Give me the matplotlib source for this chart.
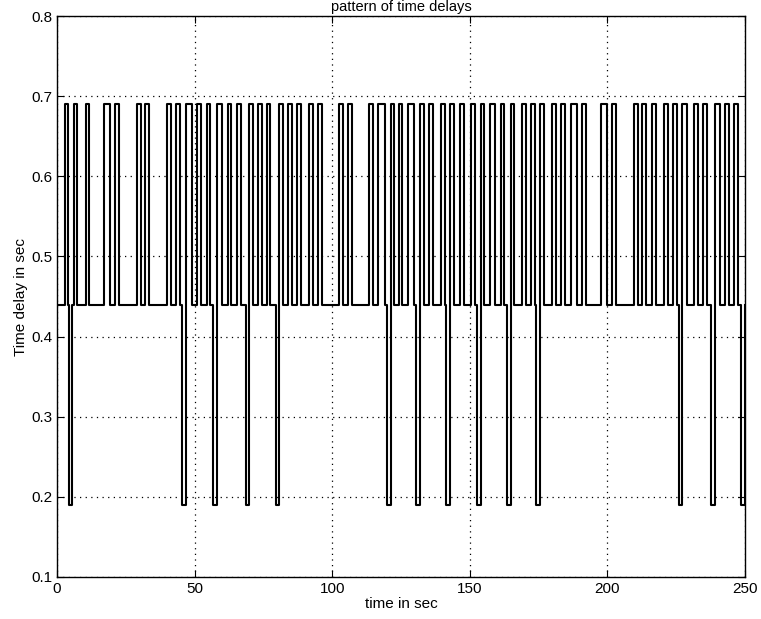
import numpy as np
import matplotlib.pyplot as plt

plt.rcParams['font.family'] = ['Liberation Sans', 'DejaVu Sans']

# levels of the delay (sec)
base_level = 0.44
high_level = 0.69
low_level = 0.19

# pulses up to 0.69 (start, end in sec)
up_start = [2.7, 6.1, 10.5, 17.0, 21.2, 29.2, 32.1, 40.1, 43.2, 46.8, 51.0, 54.4, 58.0, 62.0,
            65.5, 69.9, 73.0, 76.2, 80.8, 83.9, 87.3, 91.7, 94.8, 102.6, 105.7, 113.5, 116.7,
            121.3, 124.3, 127.6, 131.9, 135.3, 139.5, 142.8, 146.3, 150.4, 154.0, 157.2, 161.3,
            164.9, 169.0, 172.2, 175.6, 179.9, 183.1, 186.7, 190.8, 197.6, 201.5, 209.5, 212.7,
            216.1, 220.4, 223.8, 227.2, 231.3, 234.7, 239.1, 242.7, 246.1]
up_end = [3.9, 7.3, 11.7, 19.2, 22.4, 30.4, 33.5, 41.3, 44.7, 49.0, 52.2, 55.6, 59.9, 63.2,
          66.7, 71.1, 74.3, 77.4, 82.0, 85.2, 88.5, 92.9, 96.1, 103.8, 107.0, 114.7, 119.1,
          122.5, 125.5, 129.7, 133.4, 136.5, 140.9, 144.3, 147.7, 151.8, 155.2, 159.3, 162.5,
          166.1, 170.3, 173.6, 176.8, 181.2, 184.5, 188.9, 192.3, 199.8, 203.2, 211.0, 214.1,
          217.5, 221.9, 225.3, 228.9, 232.8, 236.2, 240.8, 244.2, 247.6]

# pulses down to 0.19
down_start = [4.2, 45.4, 56.6, 68.5, 79.4, 119.9, 130.5, 141.4, 152.6, 163.5, 174.2, 225.9, 237.7, 248.6]
down_end = [5.6, 46.8, 58.0, 69.9, 80.8, 121.3, 131.9, 142.8, 154.0, 164.9, 175.6, 227.2, 239.1, 250.0]

pulses = [(s, e, high_level) for s, e in zip(up_start, up_end)]
pulses += [(s, e, low_level) for s, e in zip(down_start, down_end)]
pulses.sort()

t = [0.0]
d = [base_level]
for s, e, lv in pulses:
    t += [s, s, e, e]
    d += [base_level, lv, lv, base_level]

fig = plt.figure(figsize=(7.61, 6.19), dpi=100)
ax = fig.add_axes([0.075, 0.068, 0.904, 0.906])
ax.plot(t, d, color='black', linewidth=1.5)

ax.set_xlim(0, 250)
ax.set_ylim(0.1, 0.8)
ax.set_xticks(np.arange(0, 251, 50))
ax.set_yticks(np.arange(0.1, 0.81, 0.1))
ax.set_yticklabels(['0.1', '0.2', '0.3', '0.4', '0.5', '0.6', '0.7', '0.8'])
ax.grid(True, linestyle=(0, (1, 3.5)), color='black', linewidth=0.9)
ax.tick_params(direction='in', top=True, right=True, labelsize=11, length=5)
for sp in ax.spines.values():
    sp.set_linewidth(1.0)

ax.set_title('pattern of time delays', fontsize=10.5, pad=4)
ax.set_xlabel('time in sec', fontsize=11, labelpad=1)
ax.set_ylabel('Time delay in sec', fontsize=11, labelpad=2)

fig.savefig('out.png', dpi=100)
